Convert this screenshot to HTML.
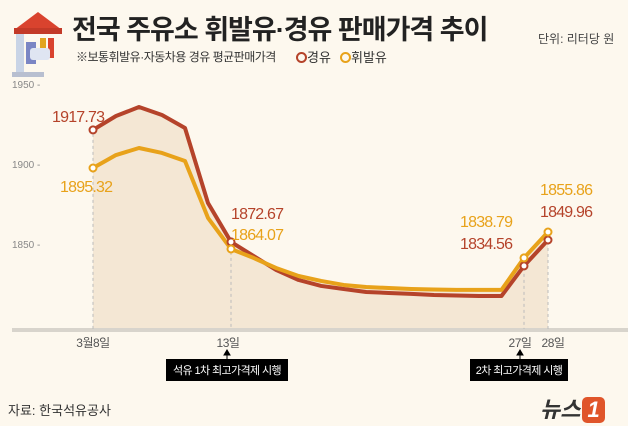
<!DOCTYPE html>
<html><head><meta charset="utf-8"><style>
body{margin:0;background:#fdf8ee;}
#wrap{position:relative;width:628px;height:426px;overflow:hidden;background:#fdf8ee;font-family:"Liberation Sans","Noto Sans CJK KR",sans-serif;}
.t{position:absolute;white-space:nowrap;}
</style></head><body>
<div id="wrap">
<svg width="628" height="426" style="position:absolute;left:0;top:0" id="svg">
 <g>
  <polygon points="14,30 38,12 62,30" fill="#d9432e"/>
  <rect x="14" y="28" width="48" height="6" fill="#c33a28"/>
  <rect x="16" y="34" width="8" height="38" fill="#c9d4e6"/>
  <rect x="26" y="42" width="10" height="22" fill="#7b86c4"/>
  <rect x="40" y="38" width="6" height="20" fill="#e2a41f"/>
  <rect x="48" y="38" width="6" height="20" fill="#d9432e"/>
  <rect x="30" y="48" width="20" height="12" rx="3" fill="#dfe5f2"/>
  <rect x="12" y="72" width="32" height="5" fill="#b8bfd0"/>
 </g>
 <g id="plot"></g>
</svg>
<div class="t" style="left:72px;top:8px;font-size:27px;font-weight:bold;color:#222;letter-spacing:-1px">전국 주유소 휘발유·경유 판매가격 추이</div>
<div class="t" style="left:538px;top:30px;font-size:12px;color:#444">단위: 리터당 원</div>
<div class="t" style="left:76px;top:48px;font-size:12px;color:#333;letter-spacing:-0.5px">※보통휘발유·자동차용 경유 평균판매가격</div>
<div class="t" style="left:296px;top:47px;font-size:13px;color:#333"><span style="display:inline-block;width:7px;height:7px;border:2px solid #b5432a;border-radius:50%;vertical-align:-1px"></span>경유</div>
<div class="t" style="left:340px;top:47px;font-size:13px;color:#333"><span style="display:inline-block;width:7px;height:7px;border:2px solid #e8a21a;border-radius:50%;vertical-align:-1px"></span>휘발유</div>
<div class="t" style="left:166px;top:359px;width:122px;text-align:center;background:#000;color:#fff;font-size:11px;letter-spacing:-0.6px;padding:3px 0">석유 1차 최고가격제 시행</div>
<div class="t" style="left:470px;top:359px;width:98px;text-align:center;background:#000;color:#fff;font-size:11px;letter-spacing:-0.6px;padding:3px 0">2차 최고가격제 시행</div>
<div class="t" style="left:8px;top:400px;font-size:13px;color:#333">자료: 한국석유공사</div>
<div class="t" style="left:540px;top:392px;font-size:22px;font-weight:bold;font-style:italic;color:#333">뉴스<span style="display:inline-block;background:#e0552a;color:#fff;border-radius:5px;padding:0 5px;margin-left:2px">1</span></div>
</div>
<script>
const categories=["8","8b","9","10","11","12","13","14","15","16","17","18","19","20","21","22","23","24","25","27","28"];
const diesel=[1921.3,1930,1935.6,1930.6,1922.5,1875.6,1851.3,1842.5,1833.8,1827.5,1823.8,1821.9,1820,1819.4,1818.8,1818.1,1817.8,1817.5,1817.5,1836.3,1852.5];
const gasoline=[1897.5,1905.6,1910,1906.9,1901.9,1866.3,1846.9,1841.3,1835,1830,1826.9,1824.4,1823.1,1822.5,1821.9,1821.6,1821.3,1821.3,1821.3,1841.3,1857.5];
const labeledIdx=[0,6,19,20];
const dieselLabels=["1917.73","1872.67","1834.56","1849.96"];
const gasolineLabels=["1895.32","1864.07","1838.79","1855.86"];
const yTicks=[1950,1900,1850];
const xLabelText=["3월8일","13일","27일","28일"];
const NS="http://www.w3.org/2000/svg";
const plot=document.getElementById('plot');
const xd=[0,6,19,20],xr=[93,231,524,548];
function x(i){for(let k=0;k<xd.length-1;k++){if(i<=xd[k+1]){return xr[k]+(i-xd[k])/(xd[k+1]-xd[k])*(xr[k+1]-xr[k]);}}return xr[xr.length-1];}
function y(v){return 244-(v-1850)*1.6;}
const baseY=329;
function mk(tag,attrs){const e=document.createElementNS(NS,tag);for(const k in attrs)e.setAttribute(k,attrs[k]);plot.appendChild(e);return e;}
let ap="M"+x(0)+","+baseY;
categories.forEach((c,i)=>{ap+=" L"+x(i)+","+y(Math.max(diesel[i],gasoline[i]));});
ap+=" L"+x(categories.length-1)+","+baseY+"Z";
const area=mk('path',{d:ap,fill:'#f4e7d4'});


const bl=mk('rect',{x:12,y:baseY-1,width:616,height:4,fill:'#d8d4cc'});


const tickDx=[0,-3,-4,5];
labeledIdx.forEach((i,k)=>{
 const l=mk('line',{x1:x(i),x2:x(i),y1:y(Math.max(diesel[i],gasoline[i]))+4,y2:baseY,stroke:'#bbb','stroke-dasharray':'3,3'});
 
 
 const t=mk('text',{x:x(i)+tickDx[k],y:347,'font-size':12,fill:'#555','text-anchor':'middle','letter-spacing':'-0.5'});
 t.textContent=xLabelText[k];
 
 
});
yTicks.forEach(v=>{
 const t=mk('text',{x:12,y:y(v)+4,'font-size':10,fill:'#888'});
 t.textContent=v+" -";
 
 
});
[6,19].forEach(i=>{
 const ax=x(i)-4;
 const a=mk('path',{d:`M${ax-3},355 L${ax},350 L${ax+3},355 Z M${ax},353 L${ax},359`,stroke:'#000',fill:'#000','stroke-width':1});
 
 
});
function line(vals,color,name){
 let p="";categories.forEach((c,i)=>{p+=(i?" L":"M")+x(i)+","+y(vals[i]);});
 const e=mk('path',{d:p,fill:'none',stroke:color,'stroke-width':4,'stroke-linejoin':'round'});
 
 
}
line(diesel,'#b5432a','line-diesel');
line(gasoline,'#e8a21a','line-gasoline');
function markers(vals,color,name){
 labeledIdx.forEach(i=>{
  const c=mk('circle',{cx:x(i),cy:y(vals[i]),r:3.5,fill:'#fff',stroke:color,'stroke-width':2});
  
  
 });
}
markers(diesel,'#b5432a','diesel');
markers(gasoline,'#e8a21a','gasoline');
const labPos=[[52,122,'#b5432a',dieselLabels[0]],[60,192,'#e8a21a',gasolineLabels[0]],
 [231,219,'#b5432a',dieselLabels[1]],[231,240,'#e8a21a',gasolineLabels[1]],
 [460,227,'#e8a21a',gasolineLabels[2]],[460,249,'#b5432a',dieselLabels[2]],
 [540,195,'#e8a21a',gasolineLabels[3]],[540,217,'#b5432a',dieselLabels[3]]];
labPos.forEach(([lx,ly,col,txt])=>{
 const t=mk('text',{x:lx,y:ly,'font-size':16,fill:col,'letter-spacing':'-0.8'});
 t.textContent=txt;
 
 
});
</script>
</body></html>
